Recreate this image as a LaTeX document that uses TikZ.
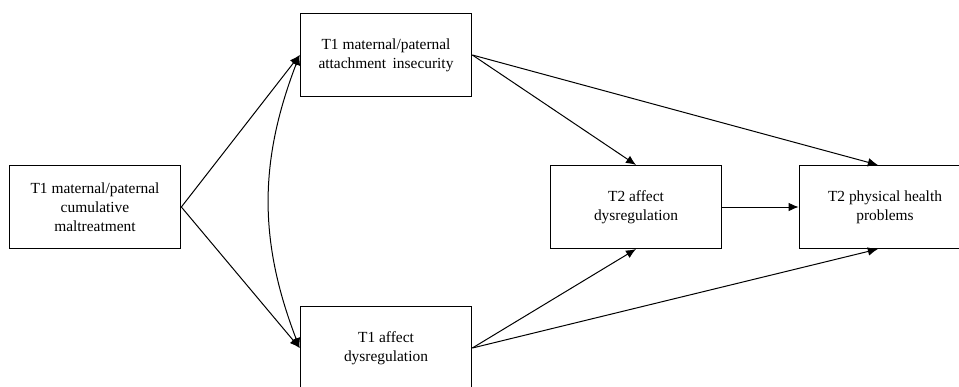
\documentclass[tikz,border=0pt]{standalone}
\usepackage{fontspec}
\setmainfont{Liberation Serif}
\usepackage{tikz}
\usetikzlibrary{positioning, arrows.meta}

\begin{document}
\begin{tikzpicture}[
    x=0.7pt, y=-0.7pt,
    line width=0.7pt,
    every node/.style={rectangle, draw, line width=0.9pt, minimum width=120pt, minimum height=58pt,
        align=center, font=\fontsize{10.8}{13.3}\selectfont},
    link/.style={draw, -{Latex[length=7pt, width=6pt]}}
    ]

    \useasboundingbox (0,0) rectangle (959,386);
    \clip (0,0) rectangle (959,386);

    % Nodes
    \node (mal) at (95,207) {T1 maternal/paternal\\cumulative\\maltreatment};
    \node (att) at (386,55) {T1 maternal/paternal\\attachment\, insecurity};
    \node (dys1) at (386,348) {T1 affect\\dysregulation};
    \node (dys2) at (636,207) {T2 affect\\dysregulation};
    \node (hlth) at (885,207) {T2 physical health\\problems};

    % Connections
    \foreach \j in {att, dys1}
        \path[link] (mal.east) -- (\j.west);

    \path[draw, {Latex[length=7pt, width=6pt]}-{Latex[length=7pt, width=6pt]}]
        (att.west) to[bend right=21] (dys1.west);

    \path[link] (att.east) -- (dys2.north);
    \path[link] (att.east) -- ([xshift=-5pt]hlth.north);
    \path[link] (dys1.east) -- (dys2.south);
    \path[link] (dys1.east) -- ([xshift=-5pt]hlth.south);
    \path[link] (dys2) -- (hlth);

\end{tikzpicture}
\end{document}
